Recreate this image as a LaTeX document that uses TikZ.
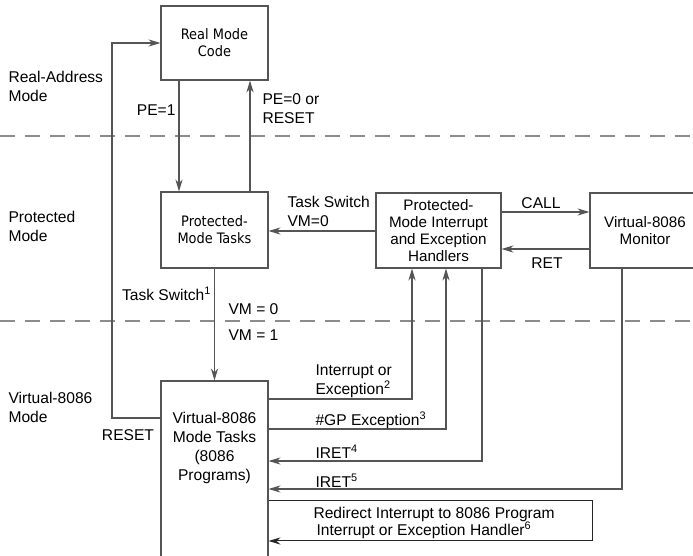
\documentclass[tikz,border=0pt]{standalone}
\usepackage{fontspec}
\setmainfont{Liberation Sans}
\newfontfamily\narrowfont{DejaVu Sans Condensed}
\usetikzlibrary{arrows.meta}
\definecolor{line_gray}{RGB}{85,85,85}
\definecolor{dash_gray}{RGB}{140,140,140}

\begin{document}
\begin{tikzpicture}[x=0.5pt,y=-0.5pt,>={Stealth[length=6pt,width=3.6pt]},line width=0.55pt]
    \tikzstyle{box}=[draw=line_gray, rectangle, inner sep=0pt, align=center, font=\fontsize{7.6}{8.6}\selectfont]
    \tikzstyle{nbox}=[style=box, font=\narrowfont\fontsize{7.2}{8.6}\selectfont]
    \tikzstyle{lbl}=[inner sep=0pt, align=left, font=\fontsize{7.8}{9.5}\selectfont]
    \tikzstyle{wire}=[->, draw=line_gray]
    \tikzstyle{sep}=[draw=dash_gray, dash pattern=on 7.5pt off 5pt, line width=0.6pt]

    \useasboundingbox (0,0) rectangle (693,556);

    % mode separators
    \draw[sep] (0,136) -- (693,136);
    \draw[sep] (0,321) -- (693,321);

    \node[lbl] (mreal) at (8,86)    [anchor=west] {Real-Address\\Mode};
    \node[lbl] (mprot) at (8,226.5) [anchor=west] {Protected\\Mode};
    \node[lbl] (mvirt) at (8,407.5) [anchor=west] {Virtual-8086\\Mode};

    \node[nbox, minimum width=53.5pt, minimum height=37pt] (real)  at (214.5,43)    {Real Mode\\Code};
    \node[nbox, minimum width=53.5pt, minimum height=38pt] (ptask) at (214.5,230)   {Protected-\\Mode Tasks};
    \node[box, minimum width=62.5pt, minimum height=37.5pt] (hdl)  at (438.5,230.5) {Protected-\\Mode Interrupt\\and Exception\\Handlers};
    \node[box, minimum width=55pt, minimum height=37.5pt] (mon)    at (645,230.5)   {Virtual-8086\\Monitor};
    \node[box, minimum width=53.5pt, minimum height=90pt] (vtask)  at (214.5,471)   {};
    \node[lbl, align=center] (vtxt) at (214.5,448) {Virtual-8086\\Mode Tasks\\(8086\\Programs)};

    \draw[wire] (vtask.west |- 0,418) -- (112,418) -- (112,43) -- (real.west);
    \draw[wire] (real.south -| 179,0) -- (ptask.north -| 179,0);
    \draw[wire] (ptask.north -| 250,0) -- (real.south -| 250,0);
    \draw[wire] (hdl.west |- 0,231) -- (ptask.east |- 0,231);
    \draw[wire] (hdl.east |- 0,212) -- (mon.west |- 0,212);
    \draw[wire] (mon.west |- 0,249) -- (hdl.east |- 0,249);
    \draw[wire] (ptask.south) -- (vtask.north);
    \draw[wire] (vtask.east |- 0,399) -- (412,399) -- (hdl.south -| 412,0);
    \draw[wire] (vtask.east |- 0,429) -- (446,429) -- (hdl.south -| 446,0);
    \draw[wire] (hdl.south -| 482,0) -- (482,461) -- (vtask.east |- 0,461);
    \draw[wire] (mon.south -| 622,0) -- (622,489) -- (vtask.east |- 0,489);
    \draw[wire, draw=black!85, line width=0.5pt] (vtask.east |- 0,501) -- (593,501) -- (593,541) -- (vtask.east |- 0,541);

    \node[lbl] (lpe1)  at (176,110) [anchor=east] {PE=1};
    \node[lbl] (lpe0)  at (262,109) [anchor=west] {PE=0 or\\RESET};
    \node[lbl] (lts)   at (287,211) [anchor=west] {Task Switch\\VM=0};
    \node[lbl] (lcall) at (541,203) {CALL};
    \node[lbl] (lret)  at (547,263) {RET};
    \node[lbl] (lts1)  at (212,294) [anchor=east] {Task Switch\textsuperscript{1}};
    \node[lbl] (lvm0)  at (228,309) [anchor=west] {VM = 0};
    \node[lbl] (lvm1)  at (228,335) [anchor=west] {VM = 1};
    \node[lbl] (lrst)  at (128,435) {RESET};
    \node[lbl] (lint)  at (315,381) [anchor=west] {Interrupt or\\Exception\textsuperscript{2}};
    \node[lbl] (lgp)   at (315,420) [anchor=west] {\#GP Exception\textsuperscript{3}};
    \node[lbl] (liret4) at (315,452) [anchor=west] {IRET\textsuperscript{4}};
    \node[lbl] (liret5) at (315,481) [anchor=west] {IRET\textsuperscript{5}};
    \node[lbl, font=\fontsize{7.8}{8.6}\selectfont] (lredir) at (313,523) [anchor=west] {Redirect Interrupt to 8086 Program\\\hspace*{1.5pt}Interrupt or Exception Handler\textsuperscript{6}};
\end{tikzpicture}
\end{document}
